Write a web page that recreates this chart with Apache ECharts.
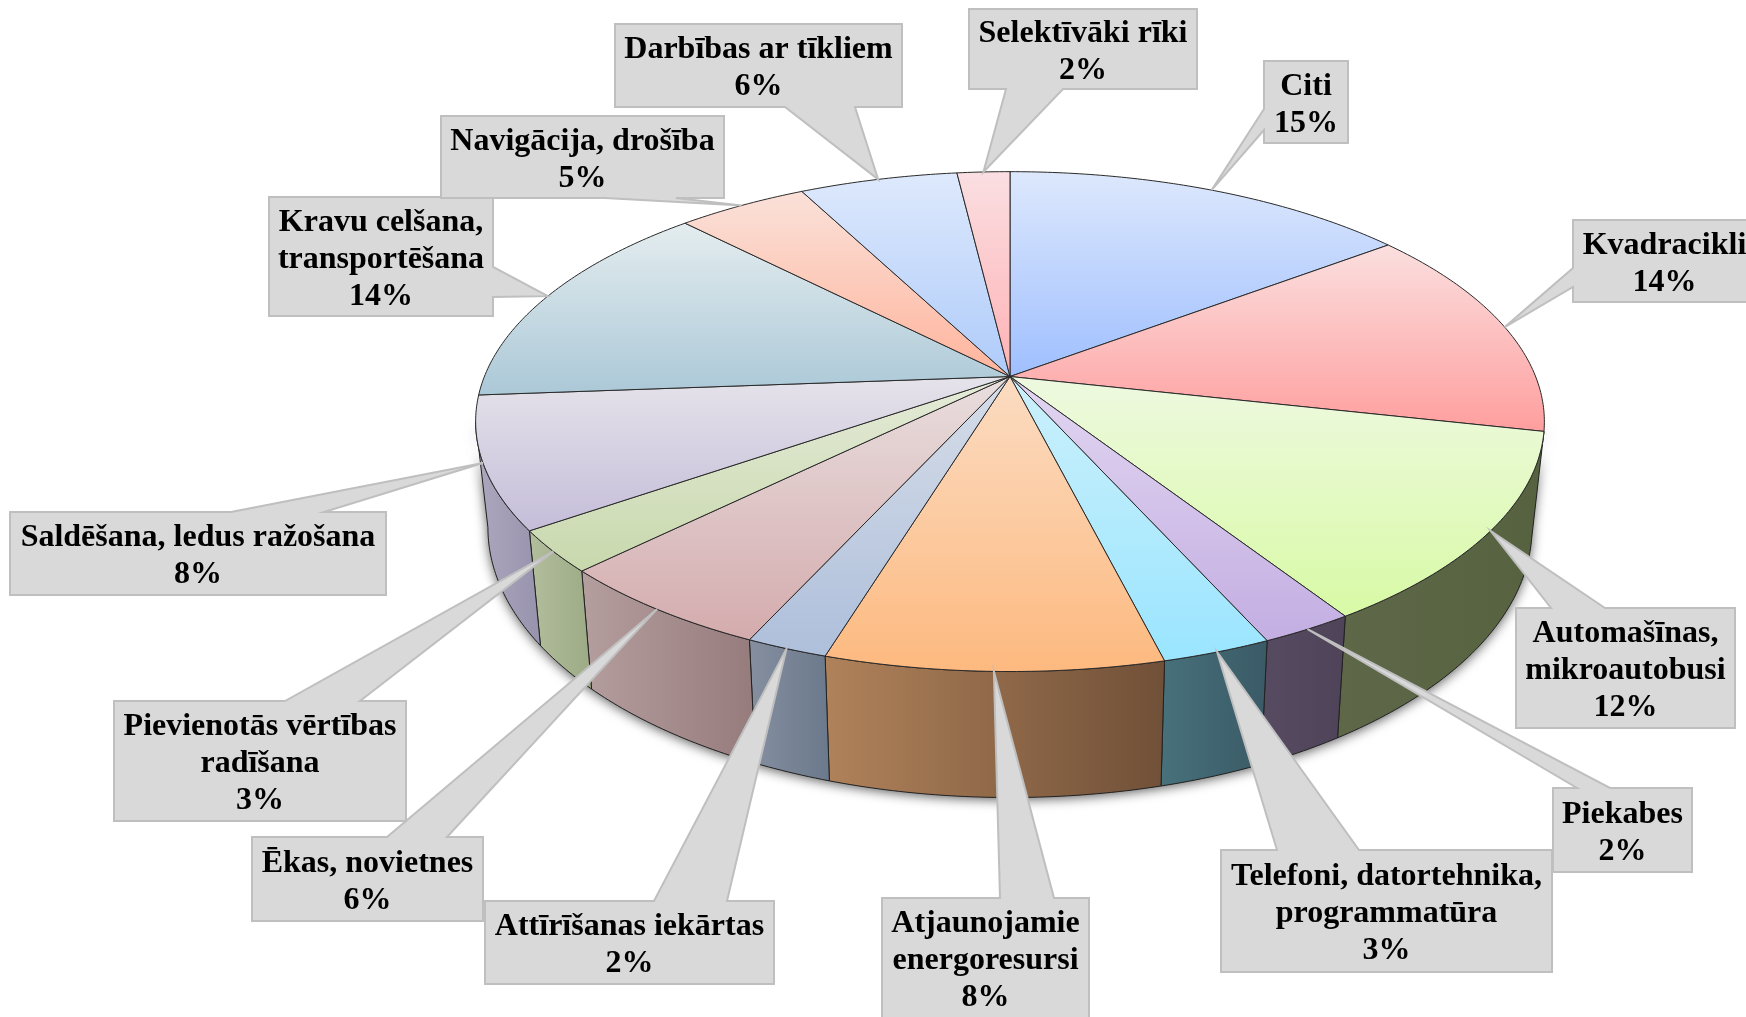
<!DOCTYPE html>
<html>
<head>
<meta charset="utf-8">
<style>html,body{margin:0;padding:0;background:#fff;overflow:hidden}#chart{width:1746px;height:1017px}</style>
<script src="https://cdn.jsdelivr.net/npm/echarts@6/dist/echarts.min.js"></script>
</head>
<body>
<div id="chart"></div>
<script>
// Clockwise from 12 o'clock.
const categories = [
  'Citi','Kvadracikli','Automašīnas,\nmikroautobusi','Piekabes',
  'Telefoni, datortehnika,\nprogrammatūra','Atjaunojamie\nenergoresursi',
  'Attīrīšanas iekārtas','Ēkas, novietnes','Pievienotās vērtības\nradīšana',
  'Saldēšana, ledus ražošana','Kravu celšana,\ntransportēšana',
  'Navigācija, drošība','Darbības ar tīkliem','Selektīvāki rīki'
];
const percentLabels = ['15%','14%','12%','2%','3%','8%','2%','6%','3%','8%','14%','5%','6%','2%'];
// Slice sizes (the printed labels are rounded).
const values = [14.7,13.8,12.4,2.4,2.8,8.6,2.1,5.8,2.7,8.5,13.9,4.7,5.7,1.9];

const topLight = ['#DDE8FC','#FBDFDF','#EEF9E0','#E2D6F1','#CCF0FB','#FBDCC2','#D6DDE8','#E9DEDE','#E5EBD9','#E5E3EA','#E4EDEF','#FAE1D9','#DEE9FC','#FADFE2'];
const topDark  = ['#9FBFFF','#FF9E9E','#D8FAA5','#C3AEE2','#9AE5FF','#FDB97F','#AEBFDB','#D4ABAD','#C8D8AC','#C5BDD9','#ABC8D7','#FFB49C','#AECBFA','#FFB1B4'];
const wallLeft = ['#5F6F8F','#8F5F5F','#5E6849','#574B62','#47717B','#B0825A','#858FA0','#B59E9E','#B3BE9C','#ADA8BE','#6F8490','#8F6A5F','#5F6F8F','#8F6569'];
const wallRight= ['#4F5F7F','#7F4F4F','#56623F','#4E4359','#3A5A66','#705038','#6B798C','#967B7C','#9CAA85','#9893AD','#5F7480','#7F5A4F','#4F5F7F','#7F5559'];

// Callout boxes [left, top, right, bottom], the side the pointer leaves from and its base span.
const calloutLayout = [
  {box:[1264,61,1348,143],  side:'left',  base:[109,130]},
  {box:[1573,220,1756,302], side:'left',  base:[268,287]},
  {box:[1516,608,1735,728], side:'top',   base:[1551,1605]},
  {box:[1553,788,1692,872], side:'top',   base:[1577,1610]},
  {box:[1221,850,1552,972], side:'top',   base:[1277,1359]},
  {box:[882,898,1089,1018], side:'top',   base:[1000,1054]},
  {box:[485,901,774,984],   side:'top',   base:[654,727]},
  {box:[252,837,483,921],   side:'top',   base:[387,447]},
  {box:[114,701,406,821],   side:'top',   base:[285,360]},
  {box:[10,512,386,595],    side:'top',   base:[231,324]},
  {box:[269,197,493,316],   side:'right', base:[267,297]},
  {box:[441,116,724,198],   side:'bottom',base:[605,676]},
  {box:[615,24,902,107],    side:'bottom',base:[785,855]},
  {box:[969,9,1197,89],     side:'bottom',base:[1006,1063]}
];

// Pie projection (tilted disc seen in perspective).
const CX = 1010, CY = 376.5, RX = 525.6, RY = 241.8, PERSP = 0.1804;
const WALL_SX = 0.977, WALL_SY = 1.08, WALL_DY = 102.4;
// The rim's silhouette tangents: only the part of the wall between them faces the viewer.
const WALL_FROM = Math.acos(-PERSP), WALL_TO = 2 * Math.PI - WALL_FROM;
const total = values.reduce((a, b) => a + b, 0);
const starts = [];
values.reduce((acc, v, i) => { starts[i] = acc; return acc + v; }, 0);
const toRad = p => p / total * 2 * Math.PI;

function topPoint(t) {
  const s = Math.sin(t), c = Math.cos(t), w = 1 + PERSP * c;
  return [CX + RX * s / w, CY - RY * c / w];
}
function bottomPoint(t) {
  const p = topPoint(t);
  return [CX + (p[0] - CX) * WALL_SX, CY + (p[1] - CY) * WALL_SY + WALL_DY];
}
function rim(fn, a, b) {
  const n = Math.max(2, Math.ceil(Math.abs(b - a) / 0.012));
  const out = [];
  for (let i = 0; i <= n; i++) out.push(fn(a + (b - a) * i / n));
  return out;
}
const grad = (x2, y2, c1, c2) => new echarts.graphic.LinearGradient(0, 0, x2, y2, [
  {offset: 0, color: c1}, {offset: 1, color: c2}
]);

const sliceData = values.map((v, i) => [i, v]);

function renderShadow() {
  const pts = rim(topPoint, WALL_FROM, WALL_TO).concat(rim(bottomPoint, WALL_TO, WALL_FROM));
  return {
    type: 'polygon', silent: true,
    shape: {points: pts},
    style: {fill: '#777', shadowBlur: 12, shadowColor: 'rgba(0,0,0,0.65)', shadowOffsetX: 0, shadowOffsetY: 2}
  };
}
function renderWall(params, api) {
  const i = api.value(0);
  const a = Math.max(toRad(starts[i]), WALL_FROM);
  const b = Math.min(toRad(starts[i] + api.value(1)), WALL_TO);
  if (b - a < 0.06) return null;
  const pts = rim(topPoint, a, b).concat(rim(bottomPoint, b, a));
  return {
    type: 'polygon', shape: {points: pts},
    style: {fill: grad(1, 0, wallLeft[i], wallRight[i]), stroke: '#222', lineWidth: 1}
  };
}
function renderTop(params, api) {
  const i = api.value(0), a = toRad(starts[i]), b = toRad(starts[i] + api.value(1));
  const pts = [[CX, CY]].concat(rim(topPoint, a, b));
  return {
    type: 'polygon', shape: {points: pts},
    style: {fill: grad(0, 1, topLight[i], topDark[i]), stroke: '#2a2a2a', lineWidth: 1, lineJoin: 'round'}
  };
}
function renderCallout(params, api) {
  const i = api.value(0);
  const L = calloutLayout[i], [x0, y0, x1, y1] = L.box, [b1, b2] = L.base;
  const tip = topPoint(toRad(starts[i] + api.value(1) / 2));
  let pts;
  if (L.side === 'top') pts = [[x0,y0],[b1,y0],tip,[b2,y0],[x1,y0],[x1,y1],[x0,y1]];
  else if (L.side === 'bottom') pts = [[x0,y0],[x1,y0],[x1,y1],[b2,y1],tip,[b1,y1],[x0,y1]];
  else if (L.side === 'left') pts = [[x0,y0],[x1,y0],[x1,y1],[x0,y1],[x0,b2],tip,[x0,b1]];
  else pts = [[x0,y0],[x1,y0],[x1,b1],tip,[x1,b2],[x1,y1],[x0,y1]];
  return {
    type: 'group',
    children: [
      {type: 'polygon', shape: {points: pts},
       style: {fill: '#D9D9D9', stroke: '#BFBFBF', lineWidth: 2, lineJoin: 'miter'}},
      {type: 'text',
       style: {
         x: (x0 + x1) / 2, y: (y0 + y1) / 2 + 3,
         text: categories[i] + '\n' + percentLabels[i],
         align: 'center', verticalAlign: 'middle',
         font: 'bold 32px "Liberation Serif"', lineHeight: 37, fill: '#000'
       }}
    ]
  };
}

const chart = echarts.init(document.getElementById('chart'), null, {renderer: 'canvas', width: 1746, height: 1017});
chart.setOption({
  backgroundColor: '#fff',
  animation: false,
  series: [
    {type: 'custom', coordinateSystem: 'none', silent: true, z: 1, data: [[0]], renderItem: renderShadow},
    {type: 'custom', coordinateSystem: 'none', z: 2, data: sliceData, renderItem: renderWall},
    {type: 'custom', coordinateSystem: 'none', z: 3, data: sliceData, renderItem: renderTop},
    {type: 'custom', coordinateSystem: 'none', z: 4, data: sliceData, renderItem: renderCallout}
  ]
});
</script>
</body>
</html>
